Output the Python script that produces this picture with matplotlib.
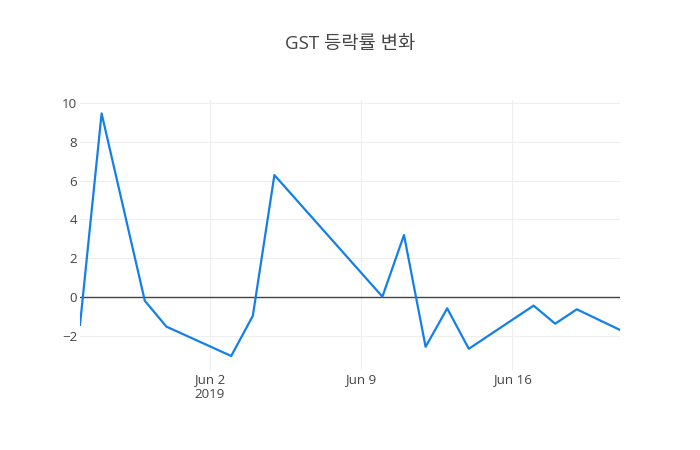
import numpy as np
import pandas as pd
import matplotlib
matplotlib.use("Agg")
import matplotlib.pyplot as plt
import matplotlib.dates as mdates

plt.rcParams['font.family'] = ['Open Sans', 'Noto Sans CJK KR', 'DejaVu Sans']

# data
dates = ["2019-05-27", "2019-05-28", "2019-05-30", "2019-05-31", "2019-06-03",
         "2019-06-04", "2019-06-05", "2019-06-10", "2019-06-11", "2019-06-12",
         "2019-06-13", "2019-06-14", "2019-06-17", "2019-06-18", "2019-06-19",
         "2019-06-21"]
rates = [-1.42, 9.45, -0.18, -1.51, -3.02,
         -0.96, 6.28, 0.03, 3.20, -2.55,
         -0.57, -2.65, -0.43, -1.36, -0.62,
         -1.68]
yticks = [-2, 0, 2, 4, 6, 8, 10]
xticks = ["2019-06-02", "2019-06-09", "2019-06-16"]
xticklabels = ["Jun 2\n2019", "Jun 9", "Jun 16"]
title = "GST 등락률 변화"

x = pd.to_datetime(dates)

fig = plt.figure(figsize=(7, 4.5), dpi=100)
ax = fig.add_axes([80/700, 80/450, 540/700, 270/450])

ax.plot(x, rates, color='#1380ea', linewidth=1.6, zorder=3)
ax.axhline(0, color='#444444', linewidth=1.0, zorder=2)

ax.set_xlim(x[0], x[-1])
ax.set_ylim(-3.74, 10.14)

ax.set_yticks(yticks)
ax.set_yticklabels([str(v).replace('-', '\u2212') for v in yticks])
ax.set_xticks(pd.to_datetime(xticks))
ax.set_xticklabels(xticklabels, linespacing=1.25)

ax.grid(True, color='#eeeeee', linewidth=0.8, zorder=0)
ax.tick_params(length=0, labelsize=9.6, colors='#444444')
ax.tick_params(axis='x', pad=2)
ax.tick_params(axis='y', pad=2)
for s in ax.spines.values():
    s.set_visible(False)

fig.text(350/700, 1 - 44/450, title, ha='center', va='center',
         fontsize=13.5, color='#444444')

plt.savefig("out.png", dpi=100)
